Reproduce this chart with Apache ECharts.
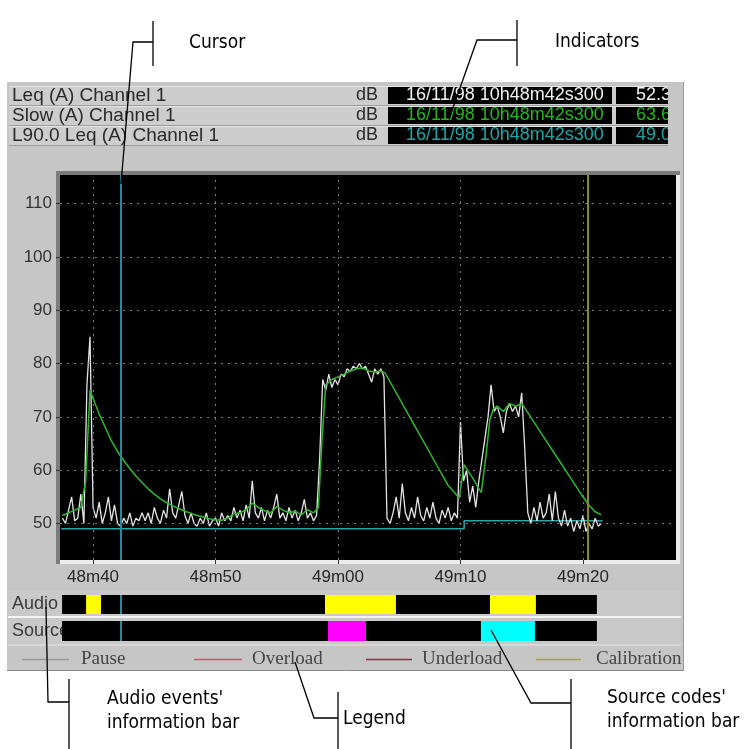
<!DOCTYPE html>
<html><head><meta charset="utf-8">
<script src="https://cdn.jsdelivr.net/npm/echarts@6/dist/echarts.min.js"></script>
<style>html,body{margin:0;padding:0;background:#fff}#c{width:751px;height:749px}</style>
</head><body><div id="c"></div>
<script>
// ---------------- data ----------------
const xTickValues = [40, 50, 60, 70, 80];               // seconds after 10h48m00
const xTickLabels = ['48m40', '48m50', '49m00', '49m10', '49m20'];
const yTickValues = [50, 60, 70, 80, 90, 100, 110];

// Leq (A) short (white trace): [time s, dB]
const fastLeq = [
 [37.5,51],[37.75,50],[38,52.5],[38.25,55],[38.5,50.5],[38.75,51],[39,55.5],[39.25,50],
 [39.5,76],[39.75,85],[40,53],[40.25,51],[40.5,54],[40.75,50],[41,52],[41.25,55],[41.5,50.5],[41.75,53.5],
 [42,50],[42.25,49.5],[42.5,51],[42.75,50],[43,52],[43.25,49.5],[43.5,51],[43.75,50.5],[44,52],
 [44.25,50.5],[44.5,52],[44.75,50],[45,53],[45.25,51],[45.5,50],[45.75,52.5],[46,51],[46.25,56.5],
 [46.5,52],[46.75,51],[47,53.5],[47.25,56],[47.5,51.5],[47.75,50],[48,52],[48.25,50],[48.5,49.5],
 [48.75,51],[49,50],[49.25,52],[49.5,49.5],[49.75,50.5],[50,51],[50.25,49.5],[50.5,52],[50.75,50.5],
 [51,51.5],[51.25,50.5],[51.5,53],[51.75,51],[52,52.5],[52.25,50.5],[52.5,53.5],[52.75,51],[53,58],
 [53.25,52],[53.5,51],[53.75,53],[54,50.5],[54.25,52.5],[54.5,51],[54.75,53],[55,55.5],[55.25,51],
 [55.5,52],[55.75,50.5],[56,53],[56.25,51],[56.5,52.5],[56.75,50.5],[57,52],[57.25,54.5],[57.5,51],
 [57.75,52],[58,50.5],[58.25,51.5],[58.5,62],[58.75,77],[59,75],[59.25,78],[59.5,75.5],[59.75,77],
 [60,76],[60.25,78],[60.5,77.5],[60.75,79],[61,78.5],[61.25,79.5],[61.5,79],[61.75,80],[62,79],
 [62.25,79.5],[62.5,78],[62.75,76.5],[63,79],[63.25,78],[63.5,79],[63.75,77.5],[64,51],[64.25,50],
 [64.5,52],[64.75,55],[65,51],[65.25,57.5],[65.5,52],[65.75,50.5],[66,53],[66.25,51],[66.5,55],
 [66.75,51.5],[67,50.5],[67.25,53],[67.5,51],[67.75,54],[68,51],[68.25,50],[68.5,52.5],[68.75,51],
 [69,53],[69.25,50.5],[69.5,52],[69.75,51],[70,69],[70.25,58],[70.5,60],[70.75,54],[71,57],
 [71.25,53],[71.5,58],[71.75,62],[72,66],[72.25,70],[72.5,76],[72.75,71],[73,72],[73.25,70],
 [73.5,67],[73.75,71],[74,72.5],[74.25,71],[74.5,72],[74.75,70],[75,74.5],[75.25,64],[75.5,52],
 [75.75,50],[76,53],[76.25,50.5],[76.5,54],[76.75,51],[77,52],[77.25,55.5],[77.5,50.5],[77.75,56],
 [78,51],[78.25,49.5],[78.5,52.5],[78.75,49.5],[79,51],[79.25,48.5],[79.5,50.5],[79.75,49],
 [80,51.5],[80.25,48.5],[80.5,50],[80.75,49],[81,51],[81.25,49.5],[81.5,50]
];

// Slow (A) (green trace)
const slowA = [
 [37.5,51.5],[38,52],[38.5,52.5],[39,53],[39.4,58],[39.75,75],[40,73.5],[40.5,70.5],[41,68],
 [41.5,65.5],[42,63.5],[42.5,61.8],[43,60.3],[43.5,58.9],[44,57.7],[44.5,56.5],[45,55.5],[45.5,54.6],
 [46,53.9],[46.5,53.3],[47,52.8],[47.5,52.3],[48,51.9],[48.5,51.5],[49,51.2],[49.5,50.9],[50,50.7],
 [50.5,50.6],[51,51],[51.5,51.8],[52,52],[52.5,52.6],[53,53.8],[53.5,53],[54,52.4],[54.5,52],
 [55,53.2],[55.5,52.5],[56,52],[56.5,52.3],[57,51.6],[57.5,52.6],[58,52],[58.4,53],[58.7,66],
 [59,76],[59.5,77],[60,77.5],[60.5,78],[61,78.6],[61.5,79],[62,79.2],[62.5,78.6],[63,78.4],
 [63.5,78.6],[63.85,78.2],[64,77.6],[65,73.5],[66,69.4],[67,65.3],[68,61.2],[69,57.1],[69.9,54.8],
 [70.3,61],[71,58.5],[71.7,55.8],[72.1,63],[72.4,69.5],[72.7,71.5],[73,72],[73.5,71],[74,72.5],
 [74.5,72],[75,72.5],[75.3,71.5],[76,69],[77,65.5],[78,62],[79,58.5],[80,55],[80.5,53.4],
 [81,52.2],[81.5,51.6]
];

// L90.0 Leq (A) (teal trace)
const l90 = [[37.4,49.0],[70.3,49.0],[70.3,50.5],[81.6,50.5]];

const cursorTime = 42.3;
const calibrationTime = 80.4;
const infoBarSpan = [37.47, 81.14];
const audioEvents = [[39.43, 40.65], [58.94, 64.73], [72.41, 76.16]];
const sourceCodeA = [[59.18, 62.29]];
const sourceCodeB = [[71.67, 76.08]];

const indicatorNames = ['Leq (A) Channel 1', 'Slow (A) Channel 1', 'L90.0 Leq (A) Channel 1'];
const indicatorTimes = ['16/11/98 10h48m42s300', '16/11/98 10h48m42s300', '16/11/98 10h48m42s300'];
const indicatorValues = ['52.3', '63.6', '49.0'];
const legendNames = ['Pause', 'Overload', 'Underload', 'Calibration'];

// ---------------- styles ----------------
const SANS = "'Liberation Sans', Arial, sans-serif";
const SERIF = "'Liberation Serif', 'Times New Roman', serif";
const ANNO = "'DejaVu Sans Condensed', 'Liberation Sans', sans-serif";
const PANEL = '#c6c6c6';
const ROW = '#cdcdcd';
const indicatorColors = ['#f2f2f2', '#22b422', '#1fa5a5'];
const legendColors = ['#9a9a9a', '#e0506a', '#a42444', '#a4a43c'];
const X_MIN = 37.3, X_MAX = 87.6, Y_MIN = 43.15, Y_MAX = 115.35;

function rect(x, y, w, h, fill, z) { return { type: 'rect', shape: { x: x, y: y, width: w, height: h }, style: { fill: fill }, z: z, silent: true }; }
function seg(x1, y1, x2, y2, stroke, lw, z) { return { type: 'line', shape: { x1: x1, y1: y1, x2: x2, y2: y2 }, style: { stroke: stroke, lineWidth: lw }, z: z, silent: true }; }
function poly(pts, stroke, lw, z) { return { type: 'polyline', shape: { points: pts }, style: { stroke: stroke, lineWidth: lw, fill: null }, z: z, silent: true }; }
function txt(x, y, t, size, family, fill, align, z) {
  return { type: 'text', x: x, y: y, style: { text: t, fontSize: size, fontFamily: family, fill: fill, align: align || 'left', verticalAlign: 'middle' }, z: z, silent: true };
}

const g = [];
// main panel
g.push(rect(7, 82, 676, 588, PANEL, 0));
g.push(seg(683.5, 82, 683.5, 670, '#9a9a9a', 1, 0));
g.push(seg(7, 670.5, 684, 670.5, '#8a8a8a', 1, 0));
// indicator rows
const rowTops = [86, 106, 126];
rowTops.forEach(function (top, i) {
  const cy = top + 9.5;
  g.push(rect(9, top, 662, 19, ROW, 0));
  g.push(seg(9, top + 0.5, 671, top + 0.5, '#e4e4e4', 1, 0));
  g.push(seg(9, top + 19.5, 671, top + 19.5, '#9c9c9c', 1, 0));
  g.push(txt(12, cy, indicatorNames[i], 19, SANS, '#2a2a2a', 'left', 1));
  g.push(txt(367, cy, 'dB', 18, SANS, '#2a2a2a', 'center', 1));
  g.push(rect(388, top + 1, 224, 17, '#000', 1));
  g.push(txt(406, cy, indicatorTimes[i], 18, SANS, indicatorColors[i], 'left', 2));
  g.push(rect(612, top + 1, 4, 18, ROW, 3));
  g.push(rect(616, top + 1, 52, 17, '#000', 3));
  g.push(txt(636, cy, indicatorValues[i], 18, SANS, indicatorColors[i], 'left', 4));
  g.push(rect(668, top, 15, 20, PANEL, 5));
});
// plot frame (sunken)
g.push(rect(56, 171, 624, 393, '#7c7c7c', 0));
g.push(rect(60, 175, 620, 389, '#ececec', 0));
g.push(rect(60, 175, 616, 385, '#000', 0));
// info bars rows
g.push(rect(8, 591, 673, 25, '#c9c9c9', 0));
g.push(seg(8, 617, 681, 617, '#f4f4f4', 2, 0));
g.push(rect(8, 619, 673, 25, '#c9c9c9', 0));
g.push(seg(8, 645, 681, 645, '#e8e8e8', 1, 0));
g.push(txt(12, 604.5, 'Audio', 18, SANS, '#3a3a3a', 'left', 0));
g.push(txt(12, 631.5, 'Source', 18, SANS, '#3a3a3a', 'left', 0));
// legend
const legLines = [[22, 69], [194, 242], [366, 412], [536, 581]];
const legText = [81, 252, 422, 596];
legendNames.forEach(function (n, i) {
  g.push(seg(legLines[i][0], 659.5, legLines[i][1], 659.5, legendColors[i], 1.5, 1));
  g.push(txt(legText[i], 659, n, 19, SERIF, '#444444', 'left', 1));
});
// annotations
g.push(txt(189, 43, 'Cursor', 19, ANNO, '#000', 'left', 10));
g.push(poly([[153, 21], [153, 66]], '#000', 1.3, 10));
g.push(poly([[153, 42], [133, 42], [121, 184]], '#000', 1.3, 10));
g.push(txt(555, 42, 'Indicators', 19, ANNO, '#000', 'left', 10));
g.push(poly([[517, 20], [517, 66]], '#000', 1.3, 10));
g.push(poly([[517, 40], [477, 40], [449, 119]], '#000', 1.3, 10));
g.push(txt(107, 699, "Audio events'", 19, ANNO, '#000', 'left', 10));
g.push(txt(107, 723, 'information bar', 19, ANNO, '#000', 'left', 10));
g.push(poly([[69, 679], [69, 749]], '#000', 1.3, 10));
g.push(poly([[46, 607], [48, 702], [69, 702]], '#000', 1.3, 10));
g.push(txt(343, 719, 'Legend', 19, ANNO, '#000', 'left', 10));
g.push(poly([[338, 692], [338, 749]], '#000', 1.3, 10));
g.push(poly([[295, 662], [314, 718], [338, 718]], '#000', 1.3, 10));
g.push(txt(607, 698, "Source codes'", 19, ANNO, '#000', 'left', 10));
g.push(txt(607, 722, 'information bar', 19, ANNO, '#000', 'left', 10));
g.push(poly([[571, 679], [571, 749]], '#000', 1.3, 10));
g.push(poly([[491, 630], [531, 703], [571, 703]], '#000', 1.3, 10));

function areas(list, color) {
  return list.map(function (s) { return [{ xAxis: s[0], itemStyle: { color: color } }, { xAxis: s[1] }]; });
}
const cursorLine = { silent: true, symbol: 'none', label: { show: false }, lineStyle: { color: '#1f8e9c', width: 2, type: 'solid' }, data: [{ xAxis: cursorTime }] };

const chart = echarts.init(document.getElementById('c'), null, { renderer: 'canvas', width: 751, height: 749 });
chart.setOption({
  animation: false,
  backgroundColor: '#ffffff',
  graphic: { elements: g },
  grid: [
    { left: 60, top: 175, width: 616, height: 385 },
    { left: 60, top: 595, width: 616, height: 19 },
    { left: 60, top: 621, width: 616, height: 20 }
  ],
  xAxis: [
    { gridIndex: 0, type: 'value', min: X_MIN, max: X_MAX,
      axisLine: { show: false }, splitLine: { show: false },
      axisTick: { show: true, customValues: xTickValues, length: 4, lineStyle: { color: '#333' } },
      axisLabel: { customValues: xTickValues, margin: 9, color: '#262626', fontSize: 17, fontFamily: SANS,
        formatter: function (v) { const i = xTickValues.findIndex(function (t) { return Math.abs(t - v) < 1e-6; }); return i >= 0 ? xTickLabels[i] : ''; } } },
    { gridIndex: 1, type: 'value', min: X_MIN, max: X_MAX, show: false },
    { gridIndex: 2, type: 'value', min: X_MIN, max: X_MAX, show: false }
  ],
  yAxis: [
    { gridIndex: 0, type: 'value', min: Y_MIN, max: Y_MAX,
      axisLine: { show: false }, splitLine: { show: false },
      axisTick: { show: true, customValues: yTickValues, length: 4, lineStyle: { color: '#333' } },
      axisLabel: { customValues: yTickValues, margin: 8, color: '#333', fontSize: 17, fontFamily: SANS } },
    { gridIndex: 1, type: 'value', min: 0, max: 1, show: false },
    { gridIndex: 2, type: 'value', min: 0, max: 1, show: false }
  ],
  series: [
    { name: 'gridlines', type: 'line', xAxisIndex: 0, yAxisIndex: 0, data: [], z: 1, silent: true,
      markLine: { silent: true, symbol: 'none', label: { show: false },
        lineStyle: { color: '#7a7a7a', width: 1, type: [2, 5] },
        data: yTickValues.map(function (v) { return { yAxis: v }; }).concat(xTickValues.map(function (v) { return { xAxis: v }; })) } },
    { name: 'L90.0 Leq (A) Channel 1', type: 'line', data: l90, symbol: 'none', z: 2,
      lineStyle: { color: '#27a6a6', width: 1.6 } },
    { name: 'Leq (A) Channel 1', type: 'line', data: fastLeq, symbol: 'none', z: 3,
      lineStyle: { color: '#e4e4e4', width: 1.3 } },
    { name: 'Slow (A) Channel 1', type: 'line', data: slowA, symbol: 'none', z: 4,
      lineStyle: { color: '#2db82d', width: 1.5 } },
    { name: 'markers', type: 'line', data: [], z: 5, silent: true,
      markLine: { silent: true, symbol: 'none', label: { show: false },
        data: [{ xAxis: cursorTime, lineStyle: { color: '#1f8e9c', width: 2, type: 'solid' } },
               { xAxis: calibrationTime, lineStyle: { color: '#8c8c14', width: 2, type: 'solid' } }] } },
    // audio events bar
    { name: 'audioBase', type: 'line', xAxisIndex: 1, yAxisIndex: 1, data: [], z: 2, silent: true,
      markArea: { silent: true, data: areas([infoBarSpan], '#000000') } },
    { name: 'audioEvents', type: 'line', xAxisIndex: 1, yAxisIndex: 1, data: [], z: 3, silent: true,
      markArea: { silent: true, data: areas(audioEvents, '#ffff00') }, markLine: cursorLine },
    // source codes bar
    { name: 'sourceBase', type: 'line', xAxisIndex: 2, yAxisIndex: 2, data: [], z: 2, silent: true,
      markArea: { silent: true, data: areas([infoBarSpan], '#000000') } },
    { name: 'sourceCodes', type: 'line', xAxisIndex: 2, yAxisIndex: 2, data: [], z: 3, silent: true,
      markArea: { silent: true, data: areas(sourceCodeA, '#ff00ff').concat(areas(sourceCodeB, '#00ffff')) }, markLine: cursorLine }
  ]
});
</script>
</body></html>
